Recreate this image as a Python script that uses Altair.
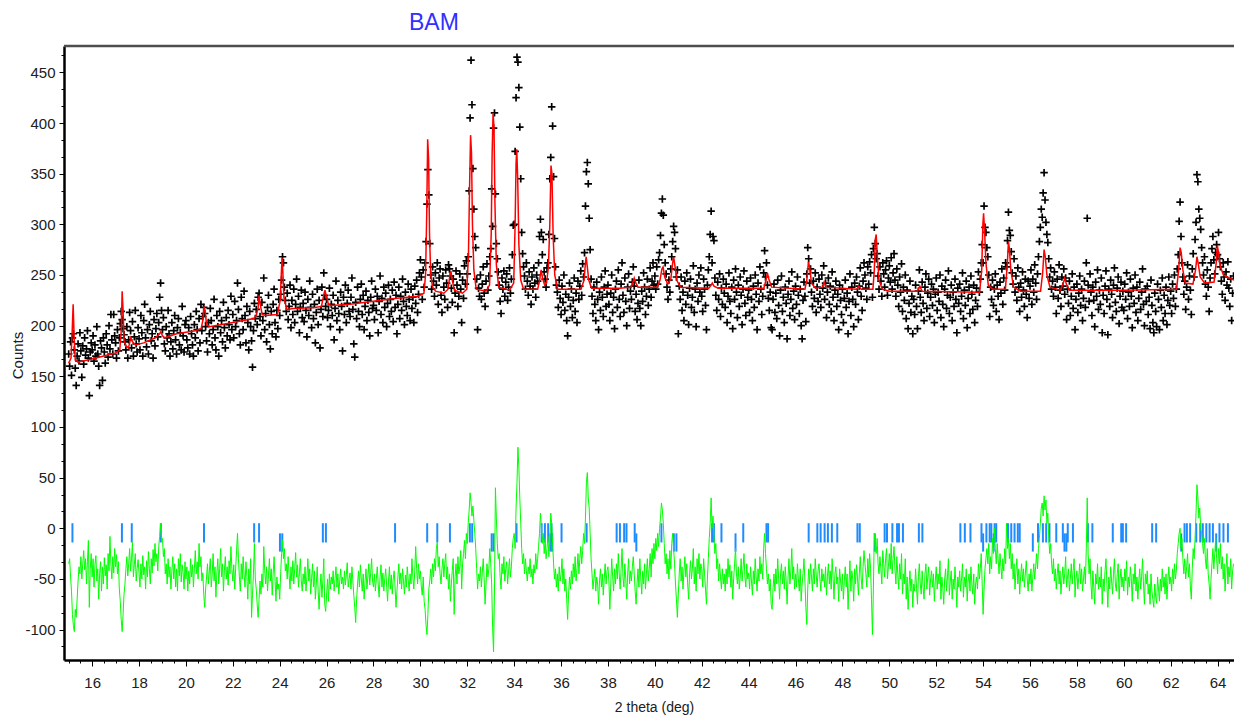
import altair as alt
import pandas as pd

# ---------------- observed counts (2theta from 15.00, step 0.04) ----------------
obs_start = 15.0
obs_step = 0.04
obs_counts = [
    172,160,184,151,188,192,176,158,141,170,182,165,193,175,149,180,162,188,171,177,195,168,131,174,183,
    176,190,165,181,170,199,172,160,141,185,178,146,188,174,163,192,181,169,200,177,211,186,172,211,190,
    183,168,196,175,188,202,214,206,197,191,184,176,199,168,186,213,195,178,204,170,189,215,182,174,198,
    187,176,210,193,170,205,221,188,179,196,172,201,214,185,192,168,206,180,197,212,189,203,228,242,215,
    196,208,182,175,199,188,215,192,170,184,203,177,195,210,186,172,198,207,181,193,176,219,190,174,201,
    205,186,178,198,172,209,192,181,170,201,188,214,196,175,207,183,221,195,209,218,212,199,185,174,203,
    192,217,205,181,196,226,188,176,210,199,170,214,193,205,184,223,198,178,208,190,215,201,186,229,196,
    211,188,224,199,205,242,216,192,181,228,207,196,234,210,183,219,203,176,214,199,185,159,195,222,207,
    216,201,228,232,209,190,223,205,247,196,212,184,218,230,201,177,214,192,221,236,203,189,215,197,226,
    210,231,245,268,262,238,225,214,232,206,219,240,198,225,211,236,203,221,246,214,229,193,218,235,208,
    222,204,233,215,189,226,210,244,218,198,231,207,221,183,213,236,201,225,178,216,238,209,252,230,219,
    226,208,215,237,199,221,210,230,186,217,244,205,225,212,196,233,219,175,228,211,240,203,222,235,214,
    209,228,247,216,182,169,223,207,238,214,199,226,241,211,230,196,219,234,205,225,213,190,228,244,217,
    220,206,236,215,229,193,224,249,211,227,203,238,218,232,199,222,240,209,226,214,235,204,243,218,230,
    192,221,238,207,229,215,246,224,201,233,219,210,241,226,205,236,217,228,203,239,222,245,213,231,252,
    265,248,226,255,238,262,283,320,354,329,281,250,236,258,244,229,252,240,262,221,247,256,230,213,249,
    238,226,255,242,218,260,256,249,237,223,246,193,232,254,240,219,229,251,236,203,245,227,259,241,264,
    251,268,333,405,462,418,355,315,288,277,246,196,237,229,250,226,241,258,232,219,244,261,235,249,268,
    276,335,298,395,410,330,281,266,253,240,224,212,247,236,254,229,243,251,225,238,257,232,246,270,299,
    300,372,425,465,460,435,396,345,292,271,258,249,236,262,244,230,253,239,221,248,236,257,242,228,250,
    244,262,288,305,292,270,285,253,246,238,257,262,290,345,366,416,397,347,286,258,240,233,218,245,227,
    211,239,223,250,215,231,205,190,228,242,219,236,208,225,247,214,232,203,244,226,239,254,230,261,248,
    272,318,352,361,340,306,275,246,229,212,238,221,205,243,226,196,233,215,248,228,209,238,254,219,231,
    240,221,205,232,250,213,228,197,236,244,218,255,226,209,241,262,230,213,247,224,200,238,251,217,234,
    226,243,258,239,214,231,206,222,245,217,200,234,224,252,238,211,229,246,220,236,257,228,244,262,240,
    249,236,258,241,265,272,289,311,325,309,280,262,251,238,226,245,233,256,268,283,298,292,276,248,255,
    192,239,226,248,215,233,205,244,221,252,230,201,237,246,218,228,259,213,236,199,242,224,250,233,257,
    229,214,246,236,220,196,240,255,268,290,313,262,288,284,247,230,215,243,226,251,209,237,221,246,232,
    218,241,203,229,252,224,212,238,197,245,226,256,233,208,240,219,248,230,201,236,254,222,210,244,228,
    235,213,247,226,205,239,218,250,231,196,242,224,258,236,211,229,252,274,248,262,240,227,215,233,198,
    196,226,241,213,232,207,245,220,190,235,249,214,228,203,238,222,187,231,244,210,226,253,217,234,206,
    239,221,248,230,212,236,200,187,225,243,229,204,251,277,266,242,256,233,219,244,227,252,213,238,224,
    246,231,218,250,237,259,226,242,208,233,247,221,239,214,253,228,205,235,244,219,231,196,240,225,211,
    236,203,227,245,218,232,192,224,251,210,238,226,199,242,221,248,233,206,239,257,229,215,244,262,250,
    237,226,258,241,263,252,270,228,276,297,281,266,271,249,236,258,244,229,262,251,238,255,264,230,247,
    259,243,267,236,252,271,245,229,256,240,219,248,233,261,214,238,225,250,207,235,197,222,244,213,229,
    192,226,211,240,219,197,234,255,228,213,243,222,205,238,251,217,232,246,209,228,241,220,236,203,231,
    247,215,233,224,250,208,239,221,199,236,245,217,230,254,212,228,240,205,233,219,246,226,193,237,222,
    241,214,229,252,207,235,220,244,198,227,238,212,249,231,216,240,203,225,237,219,253,233,246,262,280,
    262,318,297,292,277,268,250,209,238,226,245,220,236,251,214,240,229,206,243,232,256,221,247,235,262,
    258,284,312,294,289,273,252,241,266,233,249,225,257,238,214,242,228,253,235,219,246,231,208,244,227,
    239,255,221,246,233,260,242,226,251,268,283,297,315,307,331,351,324,302,290,282,266,248,257,236,244,
    229,253,238,212,246,227,260,235,219,248,239,256,231,247,206,236,222,244,210,229,251,217,238,196,226,
    241,213,232,249,220,236,205,227,244,218,262,306,240,224,251,233,210,238,225,199,243,229,255,216,235,
    221,247,193,230,212,239,254,226,191,236,219,245,231,208,240,257,223,214,237,248,202,229,243,218,234,
    215,241,226,252,207,233,219,246,229,198,237,222,250,213,238,205,227,243,216,233,256,221,200,236,224,
    239,211,228,197,245,220,203,193,232,214,199,241,226,196,235,218,247,205,230,212,238,201,225,248,220,
    234,212,241,227,250,219,236,256,270,303,322,288,262,248,231,244,216,238,260,226,249,235,211,256,271,
    248,285,302,349,342,315,306,295,277,262,250,268,241,229,255,238,214,247,262,276,288,265,251,272,280,
    270,292,266,258,244,231,262,248,225,253,240,263,237,219,246,205,232,249,
]

# ---------------- difference curve (same 2theta grid) ----------------
diff_counts = [
    -35,-30,-48,-62,-85,-96,-102,-80,-88,-70,-52,-38,-45,-28,-50,-35,-22,-41,-30,-55,-33,-12,-78,-40,-25,
    -48,-30,-58,-36,-27,-52,-40,-70,-45,-33,-62,-38,-55,-29,-47,-36,-60,-25,-42,-8,-35,-50,-28,-44,-20,
    -38,-26,-45,-33,-60,-72,-90,-102,-85,-65,-55,-40,-28,-47,-35,-20,-42,-30,-14,-48,-36,-25,-52,-40,-31,
    -44,-58,-35,-50,-27,-46,-38,-60,-32,-48,-23,-40,-55,-30,-44,-21,-37,-15,-33,-25,-42,-18,-8,5,-12,
    -10,-28,-20,-45,-35,-55,-30,-48,-38,-60,-42,-28,-50,-35,-58,-40,-62,-30,-47,-25,-53,-36,-44,-60,-33,
    -50,-38,-62,-42,-55,-30,-48,-36,-58,-40,-22,-45,-33,-50,-15,-38,-28,-52,-44,-65,-78,-60,-48,-35,-55,
    -42,-30,-58,-46,-25,-52,-38,-68,-44,-30,-55,-40,-20,-48,-35,-62,-42,-28,-50,-38,-56,-32,-45,-18,-40,
    -52,-36,-60,-40,-22,-5,-30,-48,-62,-35,-50,-28,-45,-58,-33,-48,-70,-40,-55,-30,-88,-65,-45,-15,-50,
    -60,-75,-88,-70,-52,-65,-45,-58,-18,-42,-55,-38,-62,-47,-30,-52,-40,-66,-45,-28,-50,-72,-48,-60,-55,
    -70,-45,-25,-12,-30,-20,-42,-35,-50,-28,-46,-60,-38,-52,-32,-55,-40,-24,-48,-36,-58,-44,-30,-52,-62,
    -45,-55,-38,-62,-48,-30,-52,-40,-65,-50,-35,-58,-42,-70,-55,-38,-62,-80,-58,-45,-68,-52,-30,-75,-82,
    -66,-50,-72,-45,-60,-48,-55,-42,-62,-50,-38,-58,-45,-65,-52,-40,-55,-48,-60,-42,-56,-46,-34,-58,-50,
    -44,-60,-38,-52,-66,-78,-93,-70,-55,-42,-58,-36,-50,-62,-45,-70,-52,-40,-60,-48,-35,-56,-44,-30,-52,
    -58,-45,-62,-50,-38,-55,-68,-48,-36,-58,-44,-62,-50,-40,-56,-72,-52,-38,-60,-46,-65,-50,-42,-58,-78,
    -62,-48,-35,-55,-44,-60,-40,-52,-65,-46,-58,-38,-50,-62,-45,-55,-30,-48,-60,-42,-18,-40,-55,-35,-50,
    -42,-58,-66,-48,-72,-80,-95,-105,-85,-60,-52,-40,-55,-35,-48,-30,-42,-20,-14,-38,-28,-45,-55,-40,-30,
    -48,-35,-25,-50,-38,-60,-45,-72,-55,-42,-30,-85,-48,-35,-55,-28,-45,-38,-22,-60,-35,-25,-12,-30,-5,
    -15,5,18,35,25,12,22,8,-5,-20,-40,-60,-45,-52,-38,-58,-44,-30,-50,-75,-55,-35,-48,-40,-20,
    -35,-55,-98,-122,-60,40,10,-15,-30,-25,-48,-60,-35,-45,-28,-52,-40,-33,-55,-42,-30,-48,-38,-20,-10,
    -5,-20,20,45,80,60,30,5,-20,-35,-25,-45,-30,-42,-52,-38,-45,-30,-48,-40,-55,-36,-44,-25,-40,
    -30,-18,-5,15,2,-15,-5,-25,-10,-30,-20,-8,-28,-12,15,5,-15,-35,-50,-40,-58,-45,-62,-38,-52,
    -45,-30,-55,-40,-62,-50,-70,-90,-65,-48,-60,-42,-55,-35,-48,-28,-52,-40,-25,-45,-30,-18,-35,-22,-5,
    -15,10,45,55,30,20,-5,-30,-45,-60,-50,-40,-62,-48,-55,-75,-52,-40,-58,-45,-66,-50,-35,-55,-42,
    -38,-52,-80,-55,-30,-48,-62,-40,-55,-35,-50,-25,-45,-60,-40,-20,-48,-58,-35,-50,-70,-45,-30,-55,-42,
    -52,-38,-28,-45,-62,-75,-55,-40,-58,-30,-50,-65,-42,-55,-35,-60,-45,-30,-52,-40,-25,-48,-20,-35,-15,
    -30,-10,-22,-5,-18,0,10,25,18,5,-15,-35,-25,-45,-30,-50,-22,-40,-15,-5,-20,-35,-55,-70,-88,
    -65,-45,-30,-52,-38,-60,-42,-28,-48,-35,-55,-70,-45,-32,-50,-40,-20,-55,-38,-62,-30,-45,-25,-50,-35,
    -40,-58,-30,-45,-60,-75,-50,-30,-10,5,30,0,12,-8,-25,-15,-40,-30,-52,-35,-48,-60,-40,-55,-45,
    -62,-40,-55,-30,-48,-36,-58,-42,-70,-50,-35,-20,-45,-55,-38,-60,-48,-30,-52,-40,-25,-48,-58,-35,-50,
    -44,-60,-38,-52,-66,-42,-55,-30,-48,-62,-40,-52,-28,-45,-35,-50,-20,-5,-25,-40,-55,-45,-62,-50,-75,
    -80,-60,-45,-62,-40,-55,-30,-50,-70,-45,-35,-55,-42,-60,-38,-52,-75,-48,-30,-55,-42,-20,-50,-38,-60,
    -45,-58,-35,-50,-62,-40,-72,-55,-45,-30,-52,-78,-95,-60,-40,-55,-35,-48,-62,-40,-55,-30,-45,-58,-42,
    -35,-50,-62,-40,-52,-45,-58,-38,-66,-48,-35,-55,-42,-60,-30,-48,-70,-45,-38,-55,-48,-72,-40,-52,-62,
    -45,-70,-52,-38,-58,-45,-80,-55,-32,-62,-42,-50,-72,-40,-55,-36,-48,-66,-45,-28,-50,-60,-38,-22,-35,
    -45,-58,-30,-48,-25,-40,-70,-105,-60,-5,-15,-25,-10,-35,-45,-28,-40,-55,-22,-35,-48,-30,-20,-50,-38,
    -25,-40,-15,-45,-30,-18,-40,-55,-28,-45,-60,-35,-50,-25,-65,-45,-55,-30,-70,-48,-80,-58,-42,-62,-50,
    -78,-55,-62,-40,-58,-75,-48,-35,-55,-65,-42,-58,-70,-45,-35,-60,-48,-38,-66,-50,-42,-58,-45,-72,-52,
    -38,-60,-45,-55,-32,-70,-48,-58,-75,-50,-40,-62,-48,-30,-66,-52,-42,-70,-50,-60,-38,-55,-78,-48,-58,
    -42,-62,-50,-35,-68,-48,-58,-40,-72,-52,-45,-62,-38,-55,-65,-45,-75,-55,-48,-60,-35,-50,-40,-25,-55,
    -85,-60,-40,-30,-20,-35,-15,-45,-28,-40,-10,-25,0,-20,-35,-15,-30,-45,-25,-38,-50,-30,-42,-20,-35,
    5,-20,-10,-30,-15,-40,-25,-50,-35,-60,-42,-30,-55,-40,-65,-48,-35,-52,-40,-58,-45,-32,-50,-62,-45,
    -55,-40,-62,-48,-35,-50,-38,-25,-40,-20,-10,5,20,25,12,32,18,28,5,15,-10,-25,-15,-35,-45,
    -30,-52,-40,-60,-45,-35,-55,-42,-65,-50,-38,-55,-45,-28,-58,-48,-40,-62,-50,-35,-55,-42,-30,-68,-50,
    -42,-60,-48,-35,-55,-40,-62,-50,-38,-55,-20,30,-25,-45,-30,-55,-70,-42,-58,-75,-45,-55,-35,-60,-48,
    -58,-38,-75,-50,-62,-42,-30,-55,-78,-48,-60,-38,-52,-65,-45,-30,-55,-62,-45,-35,-70,-50,-40,-58,-48,
    -62,-40,-52,-32,-66,-48,-58,-38,-50,-72,-45,-55,-35,-62,-48,-70,-52,-40,-60,-48,-30,-55,-75,-45,-55,
    -42,-65,-55,-75,-45,-62,-70,-78,-55,-68,-74,-48,-60,-72,-50,-62,-40,-58,-48,-65,-45,-70,-52,-38,-55,
    -48,-62,-40,-55,-35,-50,-42,-25,-15,-5,0,-20,-10,-30,-45,-30,-50,-38,-25,-48,-35,-58,-70,-40,-20,
    -30,-10,15,43,30,10,20,0,-5,-15,-25,-10,-30,-40,-20,-45,-55,-70,-50,-35,-20,-40,-25,-10,-30,
    -45,-20,-35,-15,-40,-28,-50,-35,-62,-40,-25,-55,-38,-48,-30,-60,-42,-35,
]

# ---------------- calculated profile ----------------
calc_2theta = [
    15.00,15.10,15.15,15.19,15.23,15.28,15.40,15.60,16.00,16.50,17.00,17.18,17.24,17.28,17.32,17.36,17.45,17.55,17.65,17.72,
    17.85,18.20,18.70,18.88,18.93,19.00,19.10,19.60,20.40,20.65,20.72,20.77,20.82,20.88,21.00,22.00,22.90,23.00,23.08,23.12,
    23.17,23.25,23.40,23.90,24.02,24.07,24.10,24.13,24.18,24.30,24.60,25.50,25.78,25.86,25.93,25.99,26.08,26.20,27.00,28.00,
    29.00,29.90,30.15,30.22,30.27,30.31,30.35,30.39,30.44,30.52,30.65,31.00,31.18,31.26,31.30,31.35,31.45,31.80,31.98,32.05,
    32.10,32.14,32.18,32.22,32.28,32.38,32.80,32.95,33.02,33.06,33.10,33.14,33.18,33.24,33.34,33.80,33.98,34.04,34.08,34.11,
    34.15,34.20,34.28,34.40,35.00,35.08,35.15,35.22,35.30,35.38,35.46,35.52,35.57,35.61,35.66,35.73,35.85,36.85,36.98,37.04,
    37.07,37.11,37.18,37.30,38.50,39.00,39.08,39.12,39.17,39.28,40.10,40.22,40.30,40.35,40.42,40.55,40.68,40.76,40.80,40.85,
    40.95,41.10,42.30,42.40,42.45,42.52,42.70,44.65,44.74,44.80,44.86,44.98,46.40,46.48,46.55,46.60,46.68,46.85,47.15,47.22,
    47.30,48.60,48.70,48.80,49.30,49.36,49.40,49.44,49.48,49.56,49.70,50.00,51.20,51.30,51.40,53.85,53.94,53.99,54.02,54.06,
    54.12,54.22,54.40,54.95,55.03,55.08,55.12,55.18,55.30,55.60,56.45,56.54,56.60,56.65,56.72,56.85,57.30,57.42,57.48,57.55,
    57.68,58.50,60.00,62.25,62.34,62.40,62.45,62.52,62.62,62.95,63.06,63.12,63.17,63.26,63.45,63.85,63.94,63.99,64.04,64.12,
    64.25,64.50,64.70,
]
calc_counts = [
    163,168,195,221,190,166,164,165,167,170,173,176,195,234,215,185,180,178,188,184,
    181,183,188,192,194,190,188,192,195,197,205,219,214,201,199,203,207,210,218,230,
    221,211,210,211,225,252,267,255,228,216,217,218,219,228,235,229,221,220,221,224,
    227,229,232,250,310,384,365,290,250,238,234,232,236,250,254,246,235,232,236,270,
    340,388,370,300,255,236,234,240,290,370,410,395,320,260,238,235,242,300,360,374,
    345,280,245,236,236,244,255,246,240,242,258,300,358,350,290,250,236,236,245,262,
    268,260,245,237,237,238,244,247,243,238,238,245,256,258,248,241,246,262,268,260,
    244,238,237,240,242,239,237,237,245,252,246,238,236,245,263,258,242,237,238,243,
    238,236,239,236,236,255,285,290,272,245,236,234,234,239,234,233,255,300,311,295,
    262,240,236,236,260,283,276,255,238,234,234,252,275,268,250,238,235,242,247,241,
    235,235,235,236,255,277,272,255,242,241,255,268,262,248,242,243,262,279,272,258,
    250,247,245,
]

# ---------------- reflection positions ----------------
hkl_phase1 = [
    15.16,17.27,17.69,18.93,20.77,22.91,23.12,25.84,25.97,28.92,30.29,30.72,31.26,32.11,32.21,34.10,
    35.17,35.31,35.45,35.59,36.02,37.09,38.37,38.51,38.69,38.79,39.14,40.28,42.44,42.52,42.84,43.77,
    44.76,44.83,46.56,46.93,47.07,47.24,47.38,47.55,47.78,48.64,48.74,49.80,49.90,50.13,50.33,50.41,
    50.58,51.26,51.41,53.03,53.22,53.46,53.93,54.14,54.28,54.35,54.49,54.56,55.06,55.20,55.34,55.48,
    55.56,56.34,56.55,56.69,56.83,57.12,57.40,57.61,57.83,58.47,58.66,59.53,59.89,59.96,60.10,61.21,
    61.38,62.59,62.69,62.83,63.09,63.26,63.37,63.52,63.66,63.80,64.08,64.25,64.44,
]
hkl_phase2 = [
    24.01,24.11,33.04,33.12,35.55,35.62,39.21,40.81,40.92,43.44,49.38,54.00,54.45,56.12,57.47,57.55,
    62.45,63.94,
]

two_theta = [round(obs_start + i * obs_step, 2) for i in range(len(obs_counts))]
obs_df = pd.DataFrame({"two_theta": two_theta, "counts": obs_counts})
diff_df = pd.DataFrame({"two_theta": two_theta[:len(diff_counts)], "counts": diff_counts})
calc_df = pd.DataFrame({"two_theta": calc_2theta, "counts": calc_counts})
t1 = pd.DataFrame({"two_theta": hkl_phase1, "top": 5, "bottom": -14})
t2 = pd.DataFrame({"two_theta": hkl_phase2, "top": -5, "bottom": -23})

FONT = "Liberation Sans Narrow, Arial Narrow, Liberation Sans, Arial"
LABEL_COLOR = "#202020"

x_scale = alt.Scale(domain=[14.8, 64.7], nice=False, zero=False)
y_scale = alt.Scale(domain=[-130, 476], nice=False, zero=False)

x_axis = alt.Axis(
    title="2 theta (deg)",
    values=[15 + 0.5 * i for i in range(100)],
    labelExpr="datum.value % 2 === 0 ? '' + datum.value : ''",
    tickSize={"condition": {"test": "datum.value % 2 === 0", "value": 6}, "value": 3},
    tickColor="black", tickWidth=1,
    domainColor="black", domainWidth=2.5,
    labelFont=FONT, labelFontSize=15, labelColor=LABEL_COLOR, labelPadding=9,
    labelOverlap=False, labelFlush=False, grid=False,
    titleFont=FONT, titleFontSize=14, titleFontWeight="normal", titleColor=LABEL_COLOR,
    titleX=590, titleY=51, titleAlign="center", titleBaseline="alphabetic",
)
y_test = "abs(datum.value/50 - round(datum.value/50)) < 0.001"
y_axis = alt.Axis(
    title="Counts",
    values=[k * 50 / 3 for k in range(-7, 29)],
    labelExpr=y_test + " ? '' + round(datum.value) : ''",
    tickSize={"condition": {"test": y_test, "value": 5}, "value": 3},
    tickColor="black", tickWidth=1,
    domainColor="black", domainWidth=2.5,
    labelFont=FONT, labelFontSize=15, labelColor=LABEL_COLOR, labelPadding=4,
    labelOverlap=False, labelFlush=False, grid=False,
    titleFont=FONT, titleFontSize=15, titleFontWeight="normal", titleColor=LABEL_COLOR,
    titleX=-42, titleY=309, titleAngle=270, titleAlign="center", titleBaseline="alphabetic",
)

X = alt.X("two_theta:Q", scale=x_scale, axis=x_axis)


def Y(field):
    return alt.Y(field, type="quantitative", scale=y_scale, axis=y_axis)


ticks1 = alt.Chart(t1).mark_rule(color="#1E8CFF", strokeWidth=2, clip=True).encode(
    x=X, y=Y("top"), y2="bottom:Q")
ticks2 = alt.Chart(t2).mark_rule(color="#1E8CFF", strokeWidth=2, clip=True).encode(
    x=X, y=Y("top"), y2="bottom:Q")
diff = alt.Chart(diff_df).mark_line(color="#00FF00", strokeWidth=1, clip=True).encode(
    x=X, y=Y("counts"))
obs = alt.Chart(obs_df).mark_point(
    shape="M-1,0L1,0M0,-1L0,1", size=56, filled=False, color="black",
    strokeWidth=1.7, opacity=1, clip=True).encode(x=X, y=Y("counts"))
calc = alt.Chart(calc_df).mark_line(color="#FF0000", strokeWidth=1.5, clip=True).encode(
    x=X, y=Y("counts"))
border = alt.Chart(pd.DataFrame({"k": [0]})).mark_rule(color="#4d4d4d", strokeWidth=2.5).encode(
    x=alt.value(0), x2=alt.value(1170), y=alt.value(0))

chart = alt.layer(ticks1, ticks2, diff, obs, calc, border).properties(
    width=1170, height=614,
    padding={"left": 64, "top": 46, "right": 0, "bottom": 56},
    autosize=alt.AutoSizeParams(type="none"),
    title=alt.TitleParams(
        "BAM", anchor="start", frame="group", dx=345, dy=24, offset=16,
        font=FONT, fontSize=23, fontWeight="normal", color="#3030FF",
        baseline="alphabetic"),
).configure_view(stroke=None)

chart.save("out.html", embed_options={"renderer": "svg", "actions": False})
